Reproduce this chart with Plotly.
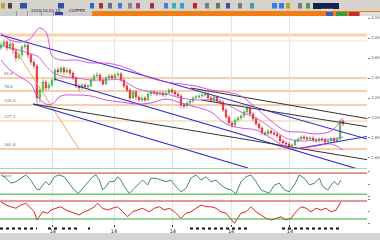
import plotly.graph_objects as go
from plotly.subplots import make_subplots

# ---------------- data ----------------
bar_idx = list(range(115))
opens = [3.70,3.73,3.76,3.70,3.74,3.68,3.60,3.63,3.71,3.73,
         3.63,3.56,3.52,3.20,3.28,3.36,3.30,3.33,3.38,3.48,
         3.46,3.50,3.46,3.48,3.45,3.40,3.32,3.30,3.33,3.31,
         3.32,3.38,3.42,3.43,3.38,3.34,3.40,3.42,3.40,3.43,
         3.44,3.38,3.32,3.28,3.20,3.26,3.21,3.18,3.20,3.18,
         3.24,3.26,3.25,3.24,3.25,3.23,3.25,3.28,3.26,3.24,
         3.22,3.13,3.12,3.15,3.17,3.20,3.21,3.22,3.23,3.24,
         3.20,3.18,3.21,3.17,3.16,3.08,3.01,2.95,2.93,2.98,
         3.00,3.02,3.06,3.10,3.04,2.99,2.94,2.90,2.85,2.84,
         2.87,2.85,2.84,2.82,2.77,2.75,2.74,2.72,2.73,2.77,
         2.79,2.81,2.80,2.79,2.80,2.78,2.77,2.79,2.78,2.76,
         2.77,2.79,2.77,2.79,2.97]
closes = [3.73,3.76,3.70,3.74,3.68,3.60,3.63,3.71,3.73,3.63,
          3.56,3.52,3.20,3.28,3.36,3.30,3.33,3.38,3.48,3.46,
          3.50,3.46,3.48,3.45,3.40,3.32,3.30,3.33,3.31,3.32,
          3.38,3.42,3.43,3.38,3.34,3.40,3.42,3.40,3.43,3.44,
          3.38,3.32,3.28,3.20,3.26,3.21,3.18,3.20,3.18,3.24,
          3.26,3.25,3.24,3.25,3.23,3.25,3.28,3.26,3.24,3.22,
          3.13,3.12,3.15,3.17,3.20,3.21,3.22,3.23,3.24,3.20,
          3.18,3.21,3.17,3.16,3.08,3.01,2.95,2.93,2.98,3.00,
          3.02,3.06,3.10,3.04,2.99,2.94,2.90,2.85,2.84,2.87,
          2.85,2.84,2.82,2.77,2.75,2.74,2.72,2.73,2.77,2.79,
          2.81,2.80,2.79,2.80,2.78,2.77,2.79,2.78,2.76,2.77,
          2.79,2.77,2.79,2.97,2.94]
highs = [3.76,3.79,3.78,3.76,3.76,3.70,3.66,3.73,3.76,3.75,
         3.65,3.59,3.54,3.31,3.39,3.38,3.36,3.40,3.50,3.51,
         3.52,3.52,3.51,3.50,3.47,3.42,3.34,3.35,3.35,3.34,
         3.40,3.44,3.46,3.45,3.40,3.42,3.44,3.44,3.45,3.47,
         3.46,3.40,3.34,3.30,3.28,3.28,3.23,3.23,3.22,3.26,
         3.28,3.28,3.27,3.27,3.27,3.27,3.30,3.30,3.28,3.26,
         3.24,3.15,3.17,3.19,3.22,3.23,3.24,3.25,3.26,3.26,
         3.22,3.23,3.23,3.19,3.18,3.10,3.03,2.97,3.00,3.02,
         3.04,3.08,3.12,3.12,3.06,3.01,2.96,2.92,2.87,2.89,
         2.89,2.87,2.86,2.84,2.79,2.77,2.76,2.75,2.79,2.81,
         2.83,2.83,2.82,2.82,2.82,2.80,2.81,2.81,2.80,2.79,
         2.81,2.81,2.81,2.99,2.98]
lows = [3.68,3.71,3.67,3.68,3.64,3.56,3.58,3.61,3.69,3.60,
        3.53,3.49,3.14,3.15,3.25,3.27,3.28,3.31,3.36,3.44,
        3.44,3.43,3.44,3.42,3.38,3.30,3.27,3.28,3.29,3.29,
        3.31,3.36,3.40,3.36,3.32,3.33,3.38,3.38,3.39,3.41,
        3.36,3.30,3.26,3.17,3.19,3.18,3.16,3.16,3.16,3.17,
        3.22,3.23,3.22,3.22,3.21,3.21,3.24,3.24,3.22,3.20,
        3.10,3.09,3.10,3.13,3.15,3.18,3.19,3.20,3.21,3.18,
        3.16,3.16,3.15,3.14,3.06,2.99,2.93,2.90,2.91,2.96,
        2.98,3.00,3.04,3.02,2.97,2.92,2.88,2.83,2.82,2.82,
        2.83,2.82,2.80,2.75,2.73,2.72,2.70,2.70,2.72,2.75,
        2.77,2.78,2.77,2.77,2.76,2.75,2.75,2.76,2.74,2.74,
        2.75,2.75,2.75,2.77,2.92]

band_x = [0,3,7,10,12,13,15,16,17,20,25,30,35,40,45,50,55,60,65,70,75,80,85,90,95,100,105,110,114]
band_upper = [3.85,3.78,3.76,3.80,3.88,3.90,3.86,3.76,3.62,3.58,3.58,3.55,3.55,3.52,3.46,3.40,3.36,3.34,3.32,3.28,3.26,3.22,3.10,2.97,2.87,2.86,2.84,2.87,3.00]
band_middle = [3.73,3.70,3.67,3.64,3.62,3.60,3.52,3.49,3.46,3.42,3.40,3.38,3.38,3.38,3.30,3.26,3.24,3.20,3.18,3.18,3.14,3.06,3.00,2.90,2.80,2.77,2.78,2.79,2.81]
band_x_lower = [0,3,7,10,12,15,17,20,25,30,35,40,45,50,55,60,65,70,75,80,85,90,95,100,105,110,114]
band_lower = [3.58,3.48,3.40,3.34,3.22,3.14,3.14,3.22,3.23,3.22,3.18,3.16,3.14,3.15,3.19,3.15,3.11,3.06,2.94,2.90,2.88,2.80,2.71,2.70,2.72,2.74,2.68]

blue_lines_x = [[0, 126.7], [17.7, 122.3], [10.7, 82.3], [100, 126.7]]
blue_lines_y = [[3.83, 2.75], [3.39, 2.46], [3.14, 2.50], [2.70, 2.84]]
black_lines_x = [[10.7, 126.7], [63.3, 126.7], [66.7, 126.7]]
black_lines_y = [[3.14, 2.56], [3.30, 2.97], [3.18, 2.89]]
orange_diag_x = [2.7, 26.0]
orange_diag_y = [3.78, 2.69]

fib_levels = [3.83, 3.77, 3.40, 3.27, 3.13, 2.97, 2.69]
fib_labels = ["", "", "61.8", "78.6", "100.0", "127.2", "161.8"]

osc1_x = [0,1.7,3.3,5,6.7,8.3,10,11.7,12.8,13.9,15,16.1,17.8,19.4,21.1,22.8,24.4,25.8,27.2,28.9,
          30.6,31.7,32.8,33.9,35,36.1,37.8,38.9,40,41.1,42.8,44.4,46.1,47.2,48.9,50,51.7,53.3,55,56.7,
          58.3,60,61.7,63.3,65,66.7,68.3,70,71.7,73.3,75,76.7,78.3,80,81.7,83.3,85,86.7,88.3,89.4,
          91.1,92.8,94.4,96.1,97.8,99.4,101.1,102.8,104.4,106.1,107.2,108.9,110,111.1,112.2,113.3]
osc1_y = [85,72,53,59,72,85,65,33,27,46,59,46,78,85,78,53,27,14,33,59,
          78,85,65,27,40,59,59,78,65,40,14,33,53,65,46,72,72,65,59,65,
          40,20,33,72,85,65,78,59,65,46,33,27,12,59,78,85,59,27,20,14,
          46,53,27,20,46,85,72,46,53,72,40,27,46,59,46,65]
osc1_levels = [92, 11]

osc2_x = [0,1.7,3.3,5,6.7,8.3,10,11.1,12,12.8,13.9,15.6,16.7,18.3,20,21.7,23.3,25,26.1,27.8,
          29.4,31.1,32.2,33.9,35.6,37.2,38.9,40.6,42.2,43.9,45.6,47.2,49.4,51.1,52.8,54.4,56.1,57.8,60,61.7,
          63.3,65,66.7,68.3,70,71.7,73.3,75,76.7,77.8,78.9,80,81.7,83.3,85,86.7,88.3,90,91.7,93.3,
          95,96.7,98.3,100,101.7,103.3,105,106.7,108.3,110,111.7,113.3]
osc2_y = [89,76,69,63,76,83,63,49,16,29,49,43,56,63,69,56,49,43,36,49,
          56,69,83,63,56,63,69,49,29,49,56,63,49,63,69,56,63,49,23,43,
          49,63,76,69,69,63,49,43,16,3,23,43,49,69,49,36,23,16,23,29,
          16,23,49,69,63,49,63,56,63,49,56,89]
osc2_levels = [92, 20]

grid_x = [17.3, 37.7, 57.3, 76.7, 96.3]
grid_labels = ["14", "14", "14", "14", "14"]

# ---------------- figure ----------------
fig = make_subplots(rows=3, cols=1, shared_xaxes=True, vertical_spacing=0.0)

fig.add_trace(go.Scatter(x=orange_diag_x, y=orange_diag_y, mode="lines",
                         line=dict(color="#f0a860", width=1), hoverinfo="skip"), row=1, col=1)
for xs, ys in zip(blue_lines_x, blue_lines_y):
    fig.add_trace(go.Scatter(x=xs, y=ys, mode="lines", line=dict(color="#2a2ad0", width=1.1),
                             hoverinfo="skip"), row=1, col=1)
for xs, ys in zip(black_lines_x, black_lines_y):
    fig.add_trace(go.Scatter(x=xs, y=ys, mode="lines", line=dict(color="#333333", width=1),
                             hoverinfo="skip"), row=1, col=1)

band_col = "#d040d8"
fig.add_trace(go.Scatter(x=band_x, y=band_upper, mode="lines", line=dict(color=band_col, width=0.9, shape="spline")), row=1, col=1)
fig.add_trace(go.Scatter(x=band_x, y=band_middle, mode="lines", line=dict(color=band_col, width=0.8, shape="spline")), row=1, col=1)
fig.add_trace(go.Scatter(x=band_x_lower, y=band_lower, mode="lines", line=dict(color=band_col, width=0.9, shape="spline")), row=1, col=1)

fig.add_trace(go.Candlestick(x=bar_idx, open=opens, high=highs, low=lows, close=closes,
                             increasing=dict(line=dict(color="#2a9a2a", width=0.5), fillcolor="#44dd44"),
                             decreasing=dict(line=dict(color="#cc1111", width=0.5), fillcolor="#ff3333"),
                             whiskerwidth=0), row=1, col=1)

fig.add_trace(go.Scatter(x=osc1_x, y=osc1_y, mode="lines", line=dict(color="#3f8585", width=1)), row=2, col=1)
fig.add_trace(go.Scatter(x=osc2_x, y=osc2_y, mode="lines", line=dict(color="#dd2222", width=1)), row=3, col=1)

fib_styles = [dict(color="#fdd0a8", width=3), dict(color="#fde8d4", width=1.5),
              dict(color="#f0a060", width=1.2), dict(color="#f0a060", width=1.2),
              dict(color="#f0a060", width=1.2), dict(color="#f8c898", width=1),
              dict(color="#f0a060", width=1.2)]
for lv, st, lab in zip(fib_levels, fib_styles, fib_labels):
    fig.add_hline(y=lv, line=st, row=1, col=1, layer="below")
    if lab:
        fig.add_annotation(x=0.2, y=lv, text=lab, showarrow=False, xanchor="left", yanchor="bottom",
                           font=dict(size=4, color="#777777"), xref="x", yref="y")

fig.add_hline(y=osc1_levels[0], line=dict(color="#cc3333", width=1), row=2, col=1)
fig.add_hline(y=osc1_levels[1], line=dict(color="#33aa33", width=1), row=2, col=1)
fig.add_hline(y=osc2_levels[0], line=dict(color="#cc3333", width=1), row=3, col=1)
fig.add_hline(y=osc2_levels[1], line=dict(color="#33aa33", width=1), row=3, col=1)

xd = [0, 0.966]
ax_common = dict(range=[-0.3, 122.0], domain=xd, showgrid=True, gridcolor="#e4e4e4", gridwidth=1,
                 tickvals=grid_x, zeroline=False, rangeslider=dict(visible=False))
fig.update_layout(
    xaxis=dict(**ax_common, showticklabels=False, showline=True, linecolor="#9adf9a", linewidth=1),
    xaxis2=dict(**ax_common, showticklabels=False),
    xaxis3=dict(**ax_common, ticktext=grid_labels, showticklabels=True, ticks="outside", ticklen=2,
                tickcolor="#333", tickfont=dict(size=5, color="#222")),
    yaxis=dict(domain=[0.3, 0.9333], range=[2.50, 4.02], side="right", showgrid=False, zeroline=False,
               ticks="outside", ticklen=2, tickcolor="#888", dtick=0.2, tickformat=".2f",
               tickfont=dict(size=4, color="#666")),
    yaxis2=dict(domain=[0.1792, 0.2875], range=[0, 100], side="right", showgrid=False, zeroline=False,
                ticks="outside", ticklen=2, tickcolor="#888", showticklabels=False),
    yaxis3=dict(domain=[0.0667, 0.1708], range=[0, 100], side="right", showgrid=False, zeroline=False,
                ticks="outside", ticklen=2, tickcolor="#888", showticklabels=False),
    width=380, height=240, margin=dict(l=0, r=0, t=0, b=0),
    paper_bgcolor="white", plot_bgcolor="white", showlegend=False,
    font=dict(family="DejaVu Sans"),
)

# ---------- window chrome (paper coords) ----------
def py(p):
    return 1 - p / 240.0

def px(p):
    return p / 380.0

shapes = []
shapes.append(dict(type="rect", xref="paper", yref="paper", x0=0, x1=1, y0=py(11), y1=1,
                   fillcolor="#d6d3cc", line=dict(width=0), layer="above"))
shapes.append(dict(type="rect", xref="paper", yref="paper", x0=0, x1=px(92), y0=py(16), y1=py(11),
                   fillcolor="#cfcfcf", line=dict(width=0), layer="above"))
shapes.append(dict(type="rect", xref="paper", yref="paper", x0=px(92), x1=1, y0=py(16), y1=py(11),
                   fillcolor="#f27d12", line=dict(width=0), layer="above"))
for a, b in [(16, 17), (27, 28), (41, 42), (53, 54)]:
    shapes.append(dict(type="rect", xref="paper", yref="paper", x0=px(a), x1=px(b), y0=py(16), y1=py(11),
                       fillcolor="#999999", line=dict(width=0), layer="above"))
shapes.append(dict(type="rect", xref="paper", yref="paper", x0=px(55), x1=px(63), y0=py(15), y1=py(12),
                   fillcolor="#3a3ab8", line=dict(width=0), layer="above"))
for a, b, c in [(326, 333, "#3060c0"), (336, 347, "#3c9c3c"), (349, 359, "#c03030"), (360, 380, "#e0e0e0")]:
    shapes.append(dict(type="rect", xref="paper", yref="paper", x0=px(a), x1=px(b), y0=py(16), y1=py(12),
                       fillcolor=c, line=dict(width=0), layer="above"))
icons = [(1, 5, "#c8a040"), (8, 12, "#444444"), (20, 27, "#3050a0"), (58, 64, "#3050a0"),
         (90, 94, "#2a6ad0"), (99, 103, "#aa3333"), (108, 112, "#6a6a8a"), (118, 122, "#3a7ad0"),
         (128, 132, "#8a8a8a"), (136, 140, "#b04070"), (150, 154, "#a03050"), (164, 168, "#4a7ad0"),
         (172, 176, "#3ab0c0"), (180, 184, "#30a0d0"), (193, 197, "#cc2222"), (205, 209, "#7a7a7a"),
         (216, 220, "#5a8a4a"), (226, 230, "#4a4aa0"), (238, 242, "#7a7a7a"), (250, 254, "#4a9aa0"),
         (272, 277, "#3a7ae0"), (279, 284, "#3a7ae0"), (286, 290, "#c0a020"), (298, 302, "#7a7a7a"),
         (306, 310, "#4aa04a")]
for a, b, c in icons:
    shapes.append(dict(type="rect", xref="paper", yref="paper", x0=px(a), x1=px(b), y0=py(8.5), y1=py(3),
                       fillcolor=c, line=dict(width=0), layer="above"))
shapes.append(dict(type="rect", xref="paper", yref="paper", x0=px(313), x1=px(339), y0=py(9), y1=py(3),
                   fillcolor="#16224e", line=dict(width=0), layer="above"))
shapes.append(dict(type="rect", xref="paper", yref="paper", x0=0, x1=1, y0=0, y1=py(233),
                   fillcolor="#d4d4d4", line=dict(width=0), layer="above"))
for a, b in [(0, 37), (48, 57), (62, 77), (88, 90), (190, 250), (282, 340)]:
    shapes.append(dict(type="line", xref="paper", yref="paper", x0=px(a), x1=px(b), y0=py(228.5), y1=py(228.5),
                       line=dict(color="#111111", width=2, dash="dot"), layer="above"))
fig.update_layout(shapes=list(fig.layout.shapes) + shapes)

fig.add_annotation(xref="paper", yref="paper", x=px(29), y=py(5.8), text="2016.10.03 12:",
                   showarrow=False, xanchor="left", font=dict(size=4, color="#222"))
fig.add_annotation(xref="paper", yref="paper", x=px(67), y=py(5.8), text="COPPER",
                   showarrow=False, xanchor="left", font=dict(size=4, color="#222"))
fig.add_annotation(xref="paper", yref="paper", x=px(326), y=py(6), text="SELECT",
                   showarrow=False, xanchor="center", font=dict(size=3, color="#ffffff"))
fig.add_annotation(xref="paper", yref="paper", x=px(1), y=py(171.5), text="Stoch",
                   showarrow=False, xanchor="left", yanchor="top", font=dict(size=3, color="#555"))

fig.write_html("out.html")
